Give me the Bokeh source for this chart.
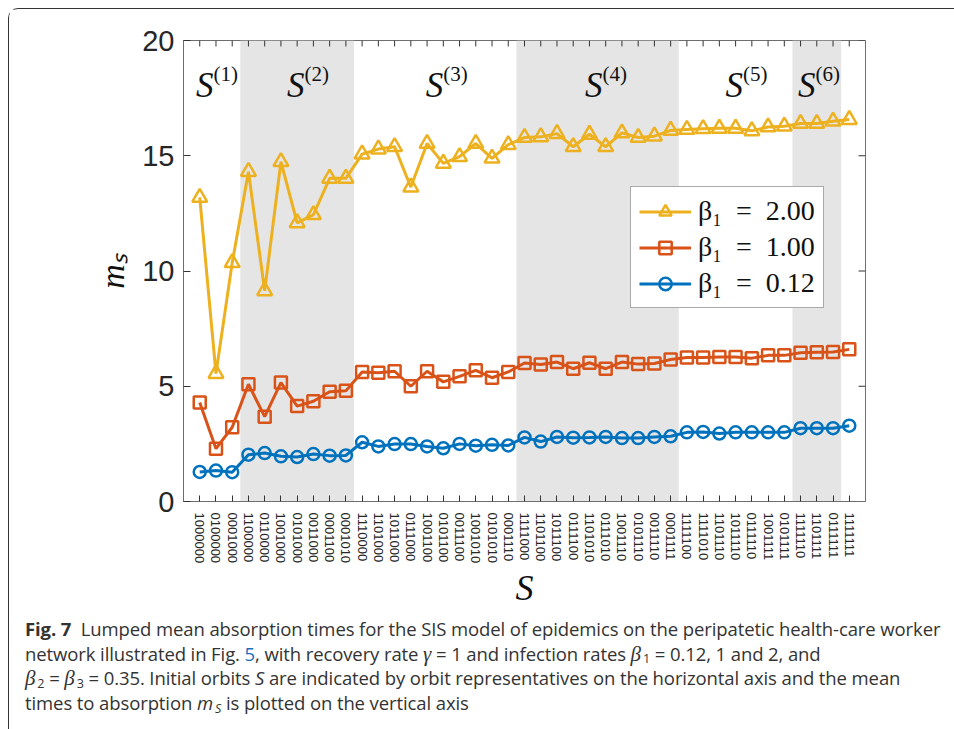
import math
import numpy as np
from bokeh.plotting import figure
from bokeh.models import (FixedTicker, Range1d, Legend, LegendItem, Div)
from bokeh.layouts import column
from bokeh.embed import file_html
from bokeh.resources import INLINE
from bokeh.core.properties import value

# ---------------- data ----------------
orbit_labels = [
    "1000000", "0100000", "0001000", "1100000", "0110000", "1001000", "0101000",
    "0011000", "0001100", "0001010", "1110000", "1101000", "1011000", "0111000",
    "1001100", "0101100", "0011100", "1001010", "0101010", "0001110", "1111000",
    "1101100", "1011100", "0111100", "1101010", "0111010", "1001110", "0101110",
    "0011110", "0001111", "1111100", "1111010", "1101110", "1011110", "0111110",
    "1001111", "0101111", "1111110", "1101111", "0111111", "1111111",
]
m_beta_200 = [13.19, 5.55, 10.36, 14.31, 9.14, 14.74, 12.09, 12.44, 14.02, 14.02,
              15.07, 15.29, 15.39, 13.64, 15.53, 14.67, 14.96, 15.53, 14.89, 15.48,
              15.79, 15.82, 15.96, 15.39, 15.93, 15.39, 15.99, 15.79, 15.85, 16.10,
              16.14, 16.17, 16.19, 16.19, 16.08, 16.25, 16.28, 16.40, 16.40, 16.50, 16.57]
m_beta_100 = [4.30, 2.29, 3.22, 5.09, 3.68, 5.16, 4.14, 4.35, 4.76, 4.80,
              5.62, 5.59, 5.65, 5.00, 5.65, 5.19, 5.43, 5.69, 5.37, 5.62,
              6.01, 5.94, 6.05, 5.76, 6.02, 5.76, 6.05, 5.96, 5.99, 6.16,
              6.25, 6.25, 6.27, 6.27, 6.22, 6.34, 6.34, 6.45, 6.47, 6.49, 6.60]
m_beta_012 = [1.28, 1.34, 1.27, 2.03, 2.10, 1.96, 1.93, 2.06, 1.99, 2.00,
              2.57, 2.39, 2.49, 2.49, 2.39, 2.31, 2.50, 2.42, 2.46, 2.43,
              2.78, 2.60, 2.80, 2.77, 2.78, 2.80, 2.75, 2.75, 2.80, 2.83,
              3.00, 3.02, 2.95, 3.00, 3.00, 3.00, 3.00, 3.18, 3.18, 3.18, 3.29]
series_names = ["β₁\u2002=\u20022.00", "β₁\u2002=\u20021.00", "β₁\u2002=\u20020.12"]
group_sizes = [3, 7, 10, 10, 7, 3, 1]
shaded_groups = [1, 3, 5]
group_names = ["(1)", "(2)", "(3)", "(4)", "(5)", "(6)"]
group_label_x = [1.85, 7.45, 16.0, 25.8, 34.45, 38.92]
y_ticks = [0, 5, 10, 15, 20]
x_title = "S"
y_title = "mₛ"

# ---------------- figure ----------------
x = list(range(1, len(orbit_labels) + 1))
x_max = len(x) + 1
y_max = 20
edges = np.concatenate([[0], np.cumsum(group_sizes)]) + 0.5
shade_left = [float(edges[g]) for g in shaded_groups]
shade_right = [float(edges[g + 1]) for g in shaded_groups]

p = figure(width=938, height=602, x_range=Range1d(0, x_max), y_range=Range1d(0, y_max),
           output_backend="svg", toolbar_location=None,
           min_border_left=174, min_border_right=82, min_border_top=31, min_border_bottom=107)
p.xgrid.visible = False
p.ygrid.visible = False
axis_color = "#6e6e6e"
tick_color = "#333333"
p.outline_line_color = axis_color
p.outline_line_width = 1
p.background_fill_color = "white"
p.border_fill_color = "white"

p.quad(left=shade_left, right=shade_right, bottom=0, top=y_max,
       fill_color="#e5e5e5", line_color=None)

# inward ticks on the top and right edges of the box (MATLAB style)
top_tick_len = 6 / 23.2
right_tick_len = 7 / 16.24
p.segment(x0=x, y0=[y_max] * len(x), x1=x, y1=[y_max - top_tick_len] * len(x),
          line_color=tick_color, line_width=1)
p.segment(x0=[x_max] * len(y_ticks), y0=y_ticks, x1=[x_max - right_tick_len] * len(y_ticks),
          y1=y_ticks, line_color=tick_color, line_width=1)

colors = ["#EDB120", "#D95319", "#0072BD"]
markers = ["triangle", "square", "circle"]
sizes = [15, 12, 12]
items = []
for ys, c, mk, sz, name in zip([m_beta_200, m_beta_100, m_beta_012], colors, markers, sizes, series_names):
    r1 = p.line(x, ys, line_color=c, line_width=3)
    r2 = p.scatter(x, ys, marker=mk, size=sz, line_color=c, line_width=2.5, fill_color=None)
    items.append(LegendItem(label=name, renderers=[r1, r2]))

legend = Legend(items=items, location=(447, 193))
legend.label_text_font = "Liberation Serif"
legend.label_text_font_size = "28px"
legend.label_text_color = "#111111"
legend.glyph_width = 52
legend.glyph_height = 31
legend.label_height = 31
legend.spacing = 4
legend.padding = 8
legend.margin = 0
legend.label_standoff = 7
legend.border_line_color = "#555555"
legend.border_line_width = 1
legend.background_fill_color = "white"
legend.background_fill_alpha = 1.0
p.add_layout(legend)

# group labels S^(k)
p.text(x=group_label_x, y=[18.06] * len(group_label_x), text=["S"] * len(group_label_x),
       text_align="right", text_baseline="alphabetic", text_font=value("Liberation Serif"),
       text_font_style="italic", text_font_size="35px", text_color="#111111")
p.text(x=group_label_x, y=[18.53] * len(group_label_x), text=group_names,
       text_align="left", text_baseline="alphabetic", text_font=value("Liberation Serif"),
       text_font_size="21px", text_color="#111111")

xa = p.xaxis[0]
xa.ticker = FixedTicker(ticks=x)
xa.major_label_overrides = {i: lab for i, lab in zip(x, orbit_labels)}
xa.major_label_orientation = -math.pi / 2
xa.major_label_text_font = "Liberation Sans"
xa.major_label_text_font_size = "13px"
xa.major_label_text_color = "#262626"
xa.major_label_standoff = 11
xa.major_tick_in = 6
xa.major_tick_out = 0
xa.axis_line_color = axis_color
xa.major_tick_line_color = tick_color
xa.minor_tick_line_color = None
xa.axis_label = x_title
xa.axis_label_text_font = "Liberation Serif"
xa.axis_label_text_font_style = "italic"
xa.axis_label_text_font_size = "36px"
xa.axis_label_text_color = "#111111"
xa.axis_label_standoff = 2

ya = p.yaxis[0]
ya.ticker = FixedTicker(ticks=y_ticks)
ya.major_label_text_font = "Liberation Sans"
ya.major_label_text_font_size = "29px"
ya.major_label_text_color = "#262626"
ya.major_label_standoff = 9
ya.major_tick_in = 7
ya.major_tick_out = 0
ya.axis_line_color = axis_color
ya.major_tick_line_color = tick_color
ya.minor_tick_line_color = None
ya.axis_label = y_title
ya.axis_label_text_font = "Liberation Serif"
ya.axis_label_text_font_style = "italic"
ya.axis_label_text_font_size = "34px"
ya.axis_label_text_color = "#111111"
ya.axis_label_standoff = 8

math_style = "font-family:'Liberation Serif',serif;font-style:italic;font-size:21px;line-height:0"
sub_style = "font-size:68%;vertical-align:-0.2em;line-height:0;padding-left:2px"
caption_html = (
    "<b>Fig. 7</b>&nbsp; Lumped mean absorption times for the SIS model of epidemics on the peripatetic health-care worker<br>"
    "network illustrated in Fig. <span style='color:#1a6fc0'>5</span>, with recovery rate "
    f"<span style=\"{math_style}\">γ</span> = 1 and infection rates "
    f"<span style=\"{math_style}\">β</span><span style=\"{sub_style}\">1</span> = 0.12, 1 and 2, and<br>"
    f"<span style=\"{math_style}\">β</span><span style=\"{sub_style}\">2</span> = "
    f"<span style=\"{math_style}\">β</span><span style=\"{sub_style}\">3</span> = 0.35. "
    "Initial orbits <i>S</i> are indicated by orbit representatives on the horizontal axis and the mean<br>"
    f"times to absorption <i>m</i><span style=\"{sub_style}\"><i>S</i></span> is plotted on the vertical axis"
)
cap = Div(text=caption_html, width=938, height=116,
          styles={"font-family": "'Open Sans', sans-serif", "font-size": "18.5px",
                  "line-height": "24.7px", "color": "#333333", "padding-left": "11px",
                  "padding-top": "1px", "white-space": "nowrap", "letter-spacing": "-0.1px",
                  "box-sizing": "border-box"})

layout = column(p, cap, spacing=0,
                styles={"margin-left": "8px", "margin-top": "8px",
                        "border-top": "1px solid #333333", "border-left": "1px solid #333333",
                        "border-top-left-radius": "10px"})

open("out.html", "w").write(file_html(layout, INLINE))
